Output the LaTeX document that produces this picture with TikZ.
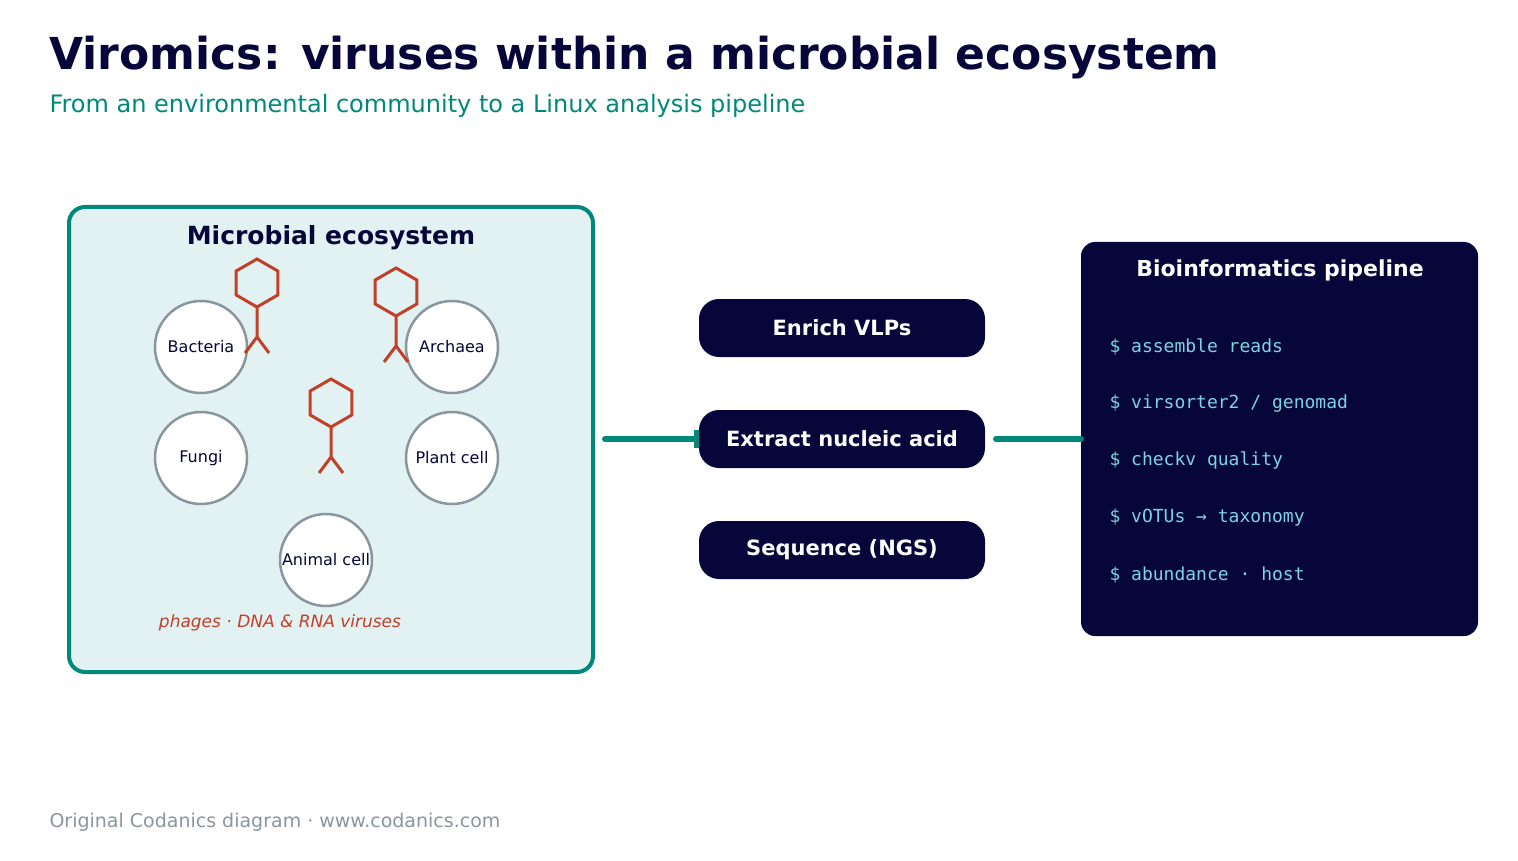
\documentclass[tikz,border=0pt]{standalone}
\usepackage{fontspec}
\setmainfont{DejaVu Sans}
\setmonofont{DejaVu Sans Mono}
\usetikzlibrary{arrows.meta}
\definecolor{navy}{HTML}{06063A}
\definecolor{teal}{HTML}{00897B}
\definecolor{lteal}{HTML}{E2F2F2}
\definecolor{rust}{HTML}{C0402A}
\definecolor{gry}{HTML}{8A969E}
\definecolor{code}{HTML}{7ED3E0}
\begin{document}
\begin{tikzpicture}[x=1pt,y=-1pt,
 cell/.style={circle,draw=gry,line width=2.5pt,fill=white,minimum size=92pt,inner sep=0pt,font=\fontsize{16}{18}\selectfont,text=navy},
 stepbox/.style={rounded corners=20pt,fill=navy,minimum width=286pt,minimum height=58pt,text=white,font=\bfseries\fontsize{21}{24}\selectfont},
 cmd/.style={anchor=west,text=code,font=\ttfamily\fontsize{18}{20}\selectfont},
 conn/.style={teal,line width=6pt,line cap=round},
 phage/.style={rust,line width=3pt}]
\useasboundingbox (0,0) rectangle (1518,861);
\fill[white] (0,0) rectangle (1518,861);
\node[anchor=base west,text=navy,font=\bfseries\fontsize{44}{50}\selectfont] (title) at (46,70) {Viromics: viruses within a microbial ecosystem};
\node[anchor=base west,text=teal,font=\fontsize{24}{28}\selectfont] (sub) at (46,113) {From an environmental community to a Linux analysis pipeline};
\node[anchor=base west,text=gry,font=\fontsize{19}{22}\selectfont] (foot) at (46,827) {Original Codanics diagram · www.codanics.com};
% ecosystem box
\draw[teal,line width=4pt,fill=lteal,rounded corners=16pt] (69,207) rectangle (593,672);
\node[text=navy,font=\bfseries\fontsize{25}{28}\selectfont] (ecot) at (331,238) {Microbial ecosystem};
\node[cell] (bac) at (201,347) {Bacteria};
\node[cell] (arc) at (452,347) {Archaea};
\node[cell] (fun) at (201,458) {Fungi};
\node[cell] (pla) at (452,458) {Plant cell};
\node[cell] (ani) at (326,560) {Animal cell};
\foreach \cx/\cy in {257/283,396/292,331/403}{
 \draw[phage] (\cx,\cy-24) -- ++(20.8,12) -- ++(0,24) -- ++(-20.8,12) -- ++(-20.8,-12) -- ++(0,-24) -- cycle;
 \draw[phage] (\cx,\cy+24) -- (\cx,\cy+54) -- (\cx-12,\cy+70);
 \draw[phage] (\cx,\cy+54) -- (\cx+12,\cy+70);
}
\node[text=rust,font=\itshape\fontsize{17}{20}\selectfont] (ph) at (280,623) {phages · DNA \& RNA viruses};
% pipeline
\fill[navy,rounded corners=14pt] (1081,242) rectangle (1478,636);
\coordinate (pl) at (1081,439);
\coordinate (eco) at (605,439);
\coordinate (s2w) at (700,439);
\coordinate (s2e) at (996,439);
\draw[conn,-{Bar[width=18pt,line width=6pt]}] (eco) -- (s2w);
\draw[conn] (s2e) -- (pl);
% steps
\node[stepbox] (s1) at (842,328) {Enrich VLPs};
\node[stepbox] (s2) at (842,439) {Extract nucleic acid};
\node[stepbox] (s3) at (842,550) {Sequence (NGS)};
\node[text=white,font=\bfseries\fontsize{22}{26}\selectfont] (pt) at (1280,270) {Bioinformatics pipeline};
\node[cmd] (c1) at (1106,347) {\$ assemble reads};
\node[cmd] (c2) at (1106,404) {\$ virsorter2 / genomad};
\node[cmd] (c3) at (1106,461) {\$ checkv quality};
\node[cmd] (c4) at (1106,518) {\$ vOTUs → taxonomy};
\node[cmd] (c5) at (1106,575) {\$ abundance · host};
\end{tikzpicture}
\end{document}
